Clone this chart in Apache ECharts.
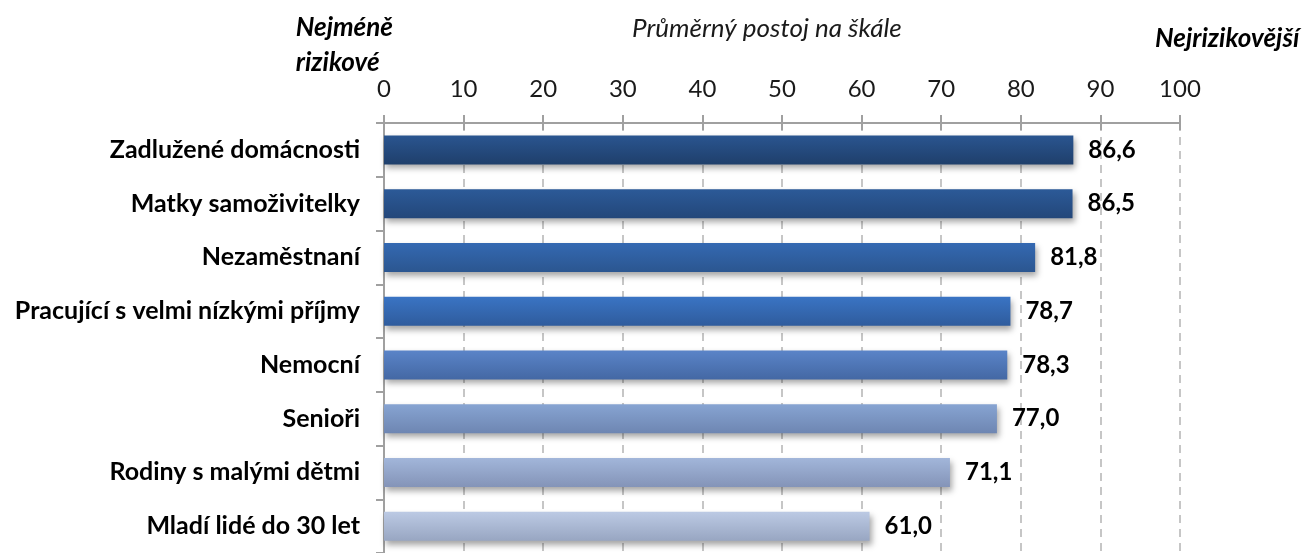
<!DOCTYPE html>
<html>
<head>
<meta charset="utf-8">
<script src="https://cdn.jsdelivr.net/npm/echarts@6/dist/echarts.min.js"></script>
<style>
  html, body { margin: 0; padding: 0; background: #fff; }
  #chart { width: 1309px; height: 553px; }
</style>
</head>
<body>
<div id="chart"></div>
<script>
const categories = [
  'Zadlužené domácnosti',
  'Matky samoživitelky',
  'Nezaměstnaní',
  'Pracující s velmi nízkými příjmy',
  'Nemocní',
  'Senioři',
  'Rodiny s malými dětmi',
  'Mladí lidé do 30 let'
]
const values = [86.6, 86.5, 81.8, 78.7, 78.3, 77.0, 71.1, 61.0]
const axisTicks = [0, 10, 20, 30, 40, 50, 60, 70, 80, 90, 100]

// top / bottom colour of each bar's gradient
const barTop = ['#2a5590', '#2c5a98', '#3469b2', '#3a74c4', '#5a84c8', '#87a4d2', '#a2b6da', '#bccae4']
const barBottom = ['#1f3f6b', '#23477a', '#2b5690', '#2f5c9d', '#4468a4', '#6e86b2', '#8494b8', '#98a6c2']

const font = 'Lato, "Open Sans", sans-serif'
const chart = echarts.init(document.getElementById('chart'))

const barData = values.map((v, i) => ({
  value: v,
  itemStyle: {
    color: new echarts.graphic.LinearGradient(0, 0, 0, 1, [
      { offset: 0, color: barTop[i] },
      { offset: 1, color: barBottom[i] }
    ])
  }
}))

chart.setOption({
  animation: false,
  grid: { left: 384, top: 123, width: 796, height: 436, containLabel: false },
  xAxis: [
    {
      type: 'value',
      position: 'top',
      min: axisTicks[0],
      max: axisTicks[axisTicks.length - 1],
      interval: 10,
      axisLine: { show: true, lineStyle: { color: '#a0a0a0', width: 2 } },
      axisTick: { show: true, length: 8, lineStyle: { color: '#a0a0a0', width: 2 } },
      axisLabel: { margin: 22, color: '#1a1a1a', fontSize: 24, fontFamily: font },
      splitLine: { show: true, lineStyle: { color: '#b4b4b4', width: 1.5, type: [8, 6] } }
    },
    {
      type: 'value',
      position: 'top',
      min: axisTicks[0],
      max: axisTicks[axisTicks.length - 1],
      interval: 10,
      axisLine: { show: false },
      axisTick: { show: true, inside: true, length: 7, lineStyle: { color: '#a0a0a0', width: 2 } },
      axisLabel: { show: false },
      splitLine: { show: false }
    }
  ],
  yAxis: {
    type: 'category',
    data: categories,
    inverse: true,
    axisLine: { show: true, lineStyle: { color: '#a0a0a0', width: 2 } },
    axisTick: { show: true, length: 8, lineStyle: { color: '#a0a0a0', width: 2 } },
    axisLabel: { margin: 24, color: '#000', fontSize: 25, fontWeight: 'bold', fontFamily: font }
  },
  series: [
    {
      type: 'bar',
      xAxisIndex: 0,
      data: barData,
      barWidth: 29,
      itemStyle: {
        shadowColor: 'rgba(0,0,0,0.35)',
        shadowBlur: 6,
        shadowOffsetX: 2,
        shadowOffsetY: 4
      },
      label: {
        show: true,
        position: 'right',
        distance: 15,
        color: '#000',
        fontSize: 24,
        fontWeight: 'bold',
        fontFamily: font,
        formatter: (p) => p.value.toFixed(1).replace('.', ',')
      }
    }
  ],
  graphic: [
    {
      type: 'text',
      left: 632,
      top: 16,
      style: { text: 'Průměrný postoj na škále', font: 'italic 26px ' + font, fill: '#1a1a1a' }
    },
    {
      type: 'text',
      right: 1309 - 393,
      top: 10,
      style: {
        text: 'Nejméně\nrizikové',
        font: 'italic bold 26px ' + font,
        fill: '#000',
        align: 'right',
        lineHeight: 35
      }
    },
    {
      type: 'text',
      left: 1155,
      top: 26,
      style: { text: 'Nejrizikovější', font: 'italic bold 26px ' + font, fill: '#000' }
    }
  ]
})
</script>
</body>
</html>
